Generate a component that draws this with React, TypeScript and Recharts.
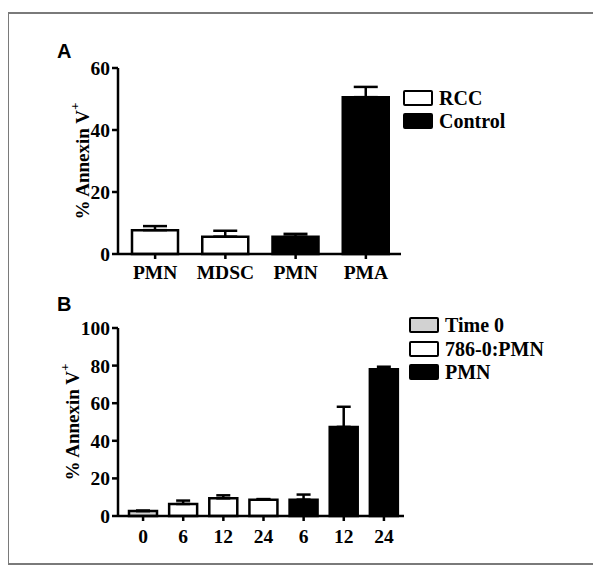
import React from 'react';
import { BarChart, Bar, XAxis, YAxis, ErrorBar, Cell } from 'recharts';

// Panel A
const catsA = ['PMN', 'MDSC', 'PMN', 'PMA'];
const valsA = [7.7, 5.6, 5.6, 50.6];
const errsA = [1.3, 1.9, 0.9, 3.3];
const groupA = ['RCC', 'RCC', 'Control', 'Control'];
const ticksA = [0, 20, 40, 60];
const legendA = ['RCC', 'Control'];

// Panel B
const catsB = ['0', '6', '12', '24', '6', '12', '24'];
const valsB = [2.6, 6.4, 9.4, 8.7, 8.7, 47.4, 78.0];
const errsB = [0.3, 1.8, 1.6, 0.3, 2.7, 10.7, 1.4];
const groupB = ['Time 0', '786-0:PMN', '786-0:PMN', '786-0:PMN', 'PMN', 'PMN', 'PMN'];
const ticksB = [0, 20, 40, 60, 80, 100];
const legendB = ['Time 0', '786-0:PMN', 'PMN'];

const fills: Record<string, string> = {
  RCC: '#ffffff',
  Control: '#000000',
  'Time 0': '#d2d2d2',
  '786-0:PMN': '#ffffff',
  PMN: '#000000',
};

const dataA = catsA.map((name, i) => ({ id: i, name, value: valsA[i], err: [0, errsA[i]], group: groupA[i] }));
const dataB = catsB.map((name, i) => ({ id: i, name, value: valsB[i], err: [0, errsB[i]], group: groupB[i] }));

const SERIF = '"Liberation Serif", "Times New Roman", serif';
const SANS = '"Liberation Sans", Arial, sans-serif';

const tickStyle = { fill: '#000', fontSize: 19.5, fontFamily: SERIF, fontWeight: 'bold' as const };
const lineStyle = { stroke: '#000', strokeWidth: 2.5 };

const makeYLabel = (dx: number) => (props: any) => {
  const vb = props.viewBox || {};
  const cx = vb.x + dx;
  const cy = vb.y + vb.height / 2;
  return (
    <text
      x={cx}
      y={cy}
      transform={`rotate(-90 ${cx} ${cy})`}
      textAnchor="middle"
      dominantBaseline="central"
      fontFamily={SERIF}
      fontWeight="bold"
      fontSize={19}
      fill="#000"
    >
      % Annexin V<tspan dy={-8} fontSize={13}>+</tspan>
    </text>
  );
};

const Legend = ({ items, left, top, gap }: { items: string[]; left: number; top: number; gap: number }) => (
  <div style={{ position: 'absolute', left, top }}>
    {items.map((it, i) => (
      <div
        key={it}
        style={{ position: 'absolute', left: 0, top: i * gap, display: 'flex', alignItems: 'center', whiteSpace: 'nowrap' }}
      >
        <div
          style={{
            width: 30,
            height: 16,
            boxSizing: 'border-box',
            border: '2.5px solid #000',
            borderRadius: 2,
            background: fills[it],
          }}
        />
        <span
          style={{
            marginLeft: 6,
            fontFamily: SERIF,
            fontWeight: 'bold',
            fontSize: 20,
            lineHeight: 1,
            color: '#000',
          }}
        >
          {it}
        </span>
      </div>
    ))}
  </div>
);

export default function App() {
  return (
    <div style={{ position: 'relative', width: 601, height: 574, margin: -8, background: '#fff', overflow: 'hidden' }}>
      <div
        style={{
          position: 'absolute',
          left: 7,
          top: 12,
          width: 589,
          height: 553,
          boxSizing: 'border-box',
          border: '2px solid #7a7a7a',
        }}
      />
      <div style={{ position: 'absolute', left: 57, top: 40.5, fontFamily: SANS, fontWeight: 'bold', fontSize: 20, lineHeight: 1 }}>A</div>
      <div style={{ position: 'absolute', left: 57, top: 293.5, fontFamily: SANS, fontWeight: 'bold', fontSize: 20, lineHeight: 1 }}>B</div>

      <div style={{ position: 'absolute', left: 0, top: 0 }}>
        <BarChart width={601} height={290} data={dataA} margin={{ top: 68, left: 58, right: 200, bottom: 6 }}>
          <XAxis
            dataKey="id"
            type="category"
            tickFormatter={(v: any) => catsA[v]}
            height={30}
            padding={{ left: 2, right: 0 }}
            axisLine={lineStyle}
            tickLine={lineStyle}
            tickSize={5}
            tickMargin={6}
            tick={tickStyle}
            interval={0}
          />
          <YAxis
            width={60}
            domain={[0, 60]}
            ticks={ticksA}
            axisLine={lineStyle}
            tickLine={lineStyle}
            tickSize={6}
            tickMargin={2}
            tick={tickStyle}
            label={makeYLabel(24)}
          />
          <Bar dataKey="value" barSize={46} stroke="#000" strokeWidth={2.5} isAnimationActive={false}>
            {dataA.map((d) => (
              <Cell key={d.id} fill={fills[d.group]} />
            ))}
            <ErrorBar dataKey="err" width={12} stroke="#000" strokeWidth={2.5} direction="y" isAnimationActive={false} />
          </Bar>
        </BarChart>
      </div>

      <div style={{ position: 'absolute', left: 0, top: 280 }}>
        <BarChart width={601} height={294} data={dataB} margin={{ top: 48, left: 58, right: 197, bottom: 28 }}>
          <XAxis
            dataKey="id"
            type="category"
            tickFormatter={(v: any) => catsB[v]}
            height={30}
            padding={{ left: 5, right: 0 }}
            axisLine={lineStyle}
            tickLine={lineStyle}
            tickSize={5}
            tickMargin={8}
            tick={tickStyle}
            interval={0}
          />
          <YAxis
            width={60}
            domain={[0, 100]}
            ticks={ticksB}
            axisLine={lineStyle}
            tickLine={lineStyle}
            tickSize={6}
            tickMargin={2}
            tick={tickStyle}
            label={makeYLabel(14)}
          />
          <Bar dataKey="value" barSize={28} stroke="#000" strokeWidth={2.5} isAnimationActive={false}>
            {dataB.map((d) => (
              <Cell key={d.id} fill={fills[d.group]} />
            ))}
            <ErrorBar dataKey="err" width={7} stroke="#000" strokeWidth={2.5} direction="y" isAnimationActive={false} />
          </Bar>
        </BarChart>
      </div>

      <Legend items={legendA} left={403} top={88} gap={23} />
      <Legend items={legendB} left={409} top={315} gap={23.5} />
    </div>
  );
}
